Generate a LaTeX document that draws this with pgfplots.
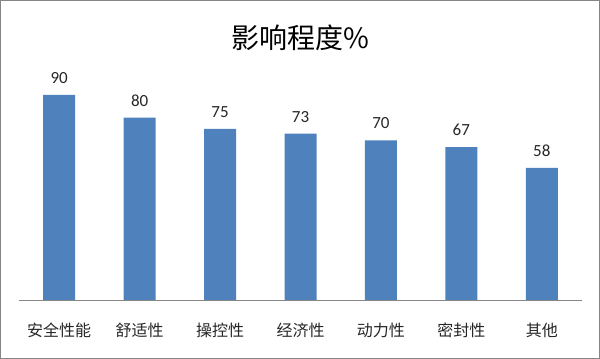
\documentclass[border=0pt]{standalone}
\usepackage{fontspec}
\setmainfont{Carlito}
\newfontfamily\cjk{Noto Sans CJK SC}
\usepackage{pgfplots}
\pgfplotsset{compat=1.18}
\definecolor{barblue}{HTML}{4F81BD}
\definecolor{framegray}{HTML}{868686}
\definecolor{txt}{HTML}{262626}
\begin{document}
\begin{tikzpicture}
\useasboundingbox (0,0) rectangle (600bp,359bp);
\draw[framegray, line width=1bp] (0.5bp,0.5bp) rectangle (599.5bp,358.5bp);
\node[font=\cjk\fontsize{28bp}{30bp}\selectfont, text=black, anchor=center] at (300bp,321bp) {影响程度\%};
\begin{axis}[
  at={(19bp,59bp)}, anchor=south west,
  scale only axis,
  width=563bp, height=228bp,
  xmin=-0.5, xmax=6.5,
  ymin=0, ymax=100,
  ybar, bar width=32bp,
  axis y line=none,
  axis x line*=bottom,
  x axis line style={framegray, line width=0.8bp, -},
  xtick=data,
  major tick length=0pt,
  xticklabels={安全性能,舒适性,操控性,经济性,动力性,密封性,其他},
  xticklabel style={font=\cjk\fontsize{16bp}{18bp}\selectfont, text=txt, anchor=center, yshift=-30bp},
  nodes near coords,
  nodes near coords style={font=\fontsize{17bp}{19bp}\selectfont, text=txt, anchor=center, yshift=17bp},
  /pgf/number format/assume math mode=true,
  clip=false,
]
\addplot[fill=barblue, draw=none] coordinates {(0,90) (1,80) (2,75) (3,73) (4,70) (5,67) (6,58)};
\end{axis}
\end{tikzpicture}
\end{document}
